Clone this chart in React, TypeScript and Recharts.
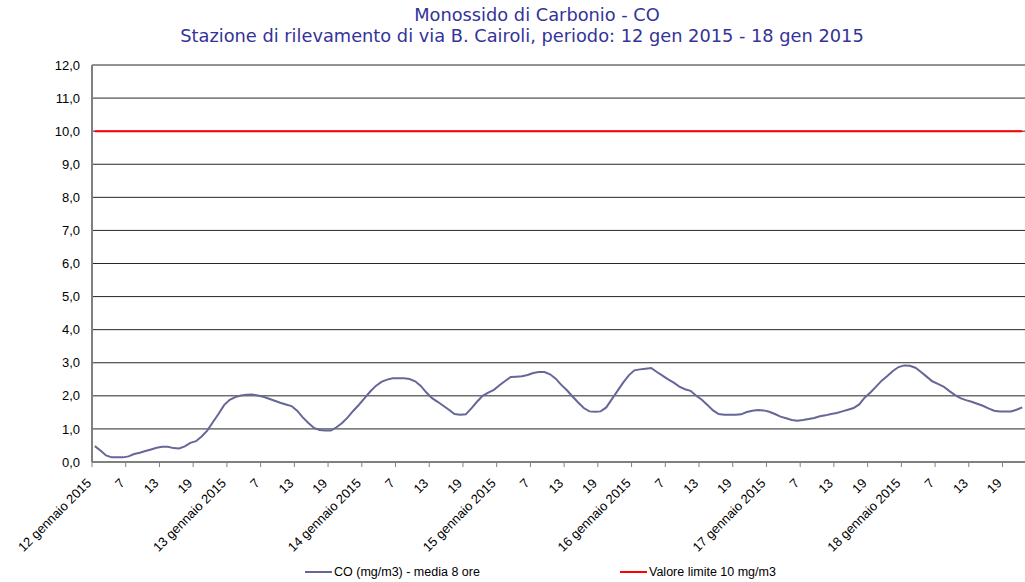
import { LineChart, Line, XAxis, YAxis, CartesianGrid } from "recharts"

// CO hourly 8h-mean values (mg/m3), one array per day
const day12 = [0.48, 0.35, 0.2, 0.14, 0.14, 0.14, 0.17, 0.24, 0.28, 0.33, 0.38, 0.43, 0.46, 0.46, 0.42, 0.41, 0.47, 0.58, 0.63, 0.77, 0.95, 1.2, 1.45, 1.72]
const day13 = [1.88, 1.96, 2.01, 2.03, 2.04, 2.01, 1.97, 1.91, 1.85, 1.79, 1.74, 1.69, 1.55, 1.35, 1.18, 1.03, 0.97, 0.95, 0.95, 1.05, 1.18, 1.35, 1.55, 1.73]
const day14 = [1.93, 2.13, 2.3, 2.42, 2.49, 2.53, 2.53, 2.53, 2.51, 2.44, 2.3, 2.1, 1.93, 1.82, 1.7, 1.58, 1.45, 1.43, 1.44, 1.62, 1.82, 2.0, 2.1, 2.18]
const day15 = [2.32, 2.45, 2.57, 2.58, 2.59, 2.63, 2.69, 2.72, 2.72, 2.65, 2.52, 2.33, 2.17, 1.98, 1.8, 1.63, 1.53, 1.52, 1.53, 1.65, 1.9, 2.15, 2.4, 2.62]
const day16 = [2.77, 2.8, 2.82, 2.84, 2.72, 2.61, 2.5, 2.4, 2.28, 2.2, 2.15, 2.0, 1.88, 1.72, 1.56, 1.45, 1.43, 1.43, 1.43, 1.44, 1.51, 1.55, 1.57, 1.56]
const day17 = [1.52, 1.45, 1.37, 1.32, 1.27, 1.25, 1.27, 1.3, 1.33, 1.38, 1.41, 1.45, 1.48, 1.53, 1.58, 1.63, 1.74, 1.95, 2.1, 2.28, 2.46, 2.6, 2.75, 2.87]
const day18 = [2.92, 2.91, 2.85, 2.72, 2.58, 2.44, 2.36, 2.28, 2.15, 2.03, 1.93, 1.87, 1.82, 1.76, 1.7, 1.62, 1.55, 1.53, 1.53, 1.53, 1.58, 1.65]

const LIMIT = 10

const dayLabels = ["12 gennaio 2015", "13 gennaio 2015", "14 gennaio 2015", "15 gennaio 2015", "16 gennaio 2015", "17 gennaio 2015", "18 gennaio 2015"]
const hourLabels = ["7", "13", "19"]
const yTicks = [0, 1, 2, 3, 4, 5, 6, 7, 8, 9, 10, 11, 12]

const coValues = [...day12, ...day13, ...day14, ...day15, ...day16, ...day17, ...day18]
const data = coValues.map((v, i) => ({ x: i + 0.5, co: v, limit: LIMIT }))
const nCat = coValues.length

// tick every 6 hours: day label at hour 1, then 7 / 13 / 19
const xTicks: number[] = []
const xTickText: Record<number, string> = {}
dayLabels.forEach((d, di) => {
  const base = di * 24
  if (base < nCat) {
    xTicks.push(base)
    xTickText[base] = d
  }
  hourLabels.forEach((h, hi) => {
    const t = base + (hi + 1) * 6
    if (t < nCat) {
      xTicks.push(t)
      xTickText[t] = h
    }
  })
})

const font = "'Liberation Sans', Arial, sans-serif"
const titleFont = "'DejaVu Sans', sans-serif"

function XTick(props: any) {
  const { x, payload } = props
  const ax = x
  const ay = 484
  return (
    <text x={ax} y={ay} transform={`rotate(-45, ${ax}, ${ay})`} textAnchor="end" fontSize={13} fontFamily={font} fill="#000">
      {xTickText[payload.value]}
    </text>
  )
}

export default function App() {
  return (
    <div style={{ position: "fixed", left: 0, top: 0, width: 1025, height: 582, background: "#fff", overflow: "hidden" }}>
      <div style={{ position: "absolute", top: 4, left: 0, width: 1074, textAlign: "center", fontFamily: titleFont, fontSize: 17.8, color: "#333399", lineHeight: "22px" }}>
        Monossido di Carbonio - CO
      </div>
      <div style={{ position: "absolute", top: 25, left: 0, width: 1044, textAlign: "center", fontFamily: titleFont, fontSize: 17.8, color: "#333399", lineHeight: "22px" }}>
        Stazione di rilevamento di via B. Cairoli, periodo: 12 gen 2015 - 18 gen 2015
      </div>
      <LineChart width={1025} height={582} data={data} margin={{ top: 65, right: 0, bottom: 20, left: 0 }}>
        <CartesianGrid horizontal vertical={false} stroke="#000" strokeOpacity={0.85} />
        <YAxis
          type="number"
          domain={[0, 12]}
          ticks={yTicks}
          interval={0}
          width={92}
          axisLine={{ stroke: "#808080", strokeWidth: 2 }}
          tickLine={false}
          tickMargin={6}
          tickFormatter={(v: number) => v.toFixed(1).replace(".", ",")}
          tick={{ fontSize: 13, fontFamily: font, fill: "#000" }}
        />
        <XAxis
          type="number"
          dataKey="x"
          domain={[0, nCat]}
          ticks={xTicks}
          interval={0}
          height={100}
          axisLine={{ stroke: "#808080", strokeWidth: 2 }}
          tickLine={{ stroke: "#808080" }}
          tickSize={5}
          tick={<XTick />}
        />
        <Line type="linear" dataKey="limit" stroke="#ff0000" strokeWidth={2} dot={false} isAnimationActive={false} />
        <Line type="linear" dataKey="co" stroke="#666699" strokeWidth={2} dot={false} isAnimationActive={false} />
      </LineChart>
      <div style={{ position: "absolute", top: 564, left: 0, width: 1025, height: 16, fontFamily: font, fontSize: 12.5, color: "#000" }}>
        <div style={{ position: "absolute", left: 305, top: 7, width: 27, height: 2, background: "#666699" }} />
        <div style={{ position: "absolute", left: 334, top: 0, lineHeight: "16px" }}>CO (mg/m3) - media 8 ore</div>
        <div style={{ position: "absolute", left: 620, top: 7, width: 27, height: 2, background: "#ff0000" }} />
        <div style={{ position: "absolute", left: 649, top: 0, lineHeight: "16px" }}>Valore limite 10 mg/m3</div>
      </div>
    </div>
  )
}
